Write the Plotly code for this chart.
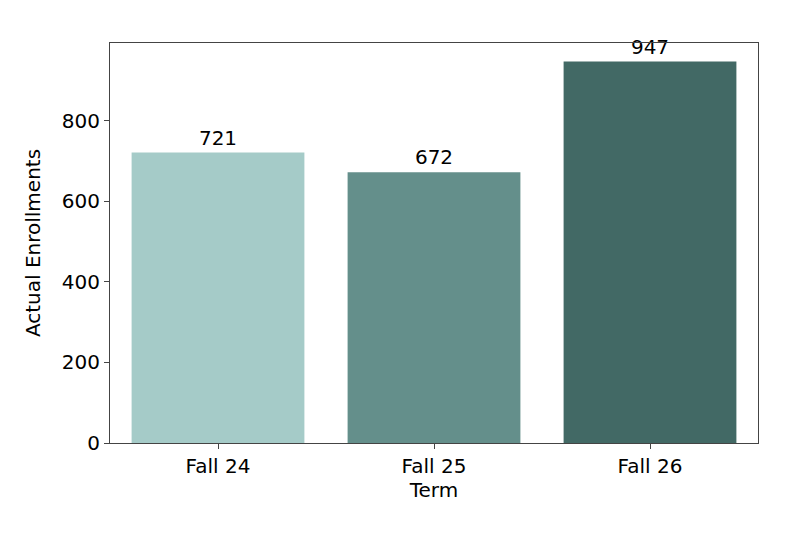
import plotly.graph_objects as go

terms = ["Fall 24", "Fall 25", "Fall 26"]
enrollments = [721, 672, 947]
colors = ["#a5cbc8", "#648f8b", "#426965"]

fig = go.Figure(go.Bar(
    x=terms, y=enrollments, marker_color=colors, marker_line_width=0,
    text=[str(v) for v in enrollments], textposition="outside",
    textfont=dict(size=20, color="black"), cliponaxis=False,
))
fig.update_layout(
    width=800, height=533, plot_bgcolor="white", paper_bgcolor="white",
    margin=dict(l=102, r=50, t=35, b=98),
    font=dict(family="DejaVu Sans", size=20, color="black"),
    bargap=0.2, showlegend=False,
)
fig.update_xaxes(title_text="Term", title_font=dict(size=20), title_standoff=0,
                 tickfont=dict(size=20), range=[-0.5, 2.5],
                 showline=True, linecolor="#444", mirror=True, ticks="outside",
                 ticklen=5, tickcolor="#444")
fig.update_yaxes(title_text="Actual Enrollments", title_font=dict(size=20),
                 tickfont=dict(size=20), range=[0, 993],
                 tickvals=[0, 200, 400, 600, 800], showgrid=False, zeroline=False,
                 showline=True, linecolor="#444", mirror=True, ticks="outside",
                 ticklen=5, tickcolor="#444")
fig.write_html("out.html")
